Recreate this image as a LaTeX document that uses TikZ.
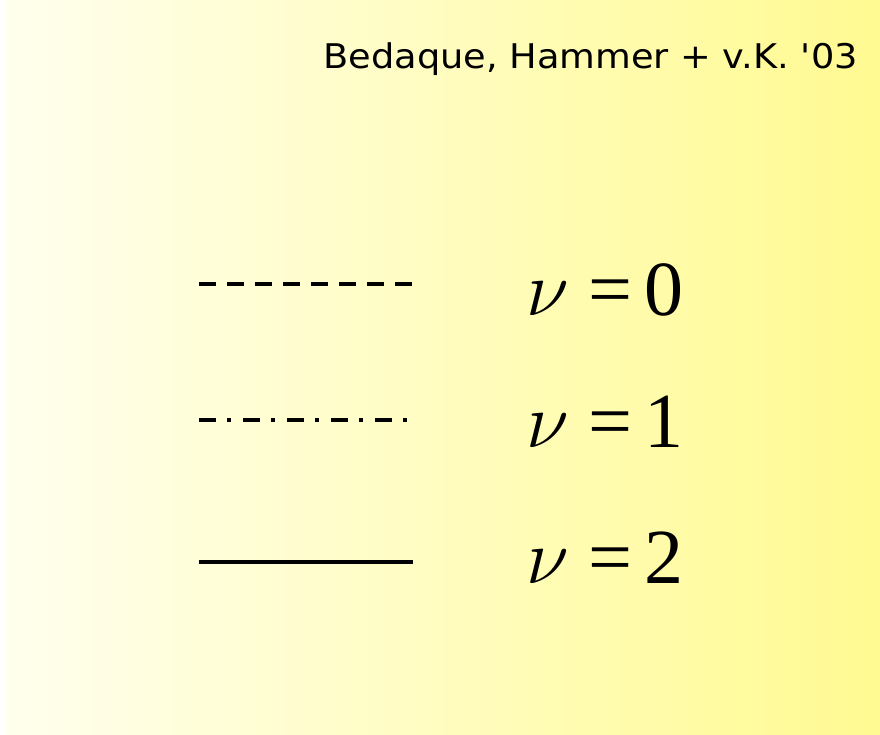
\RequirePackage{fix-cm}
\documentclass[tikz,border=0pt]{standalone}
\usepackage{fontspec}
\setmainfont{Liberation Serif}
\newfontfamily\refsfont[FakeStretch=1.08]{DejaVu Sans}
\usepackage{xcolor}
\usepackage{tikz}
\usetikzlibrary{positioning}

\definecolor{bgleft}{RGB}{255,255,238}
\definecolor{bgmid}{RGB}{255,255,196}
\definecolor{bgright}{RGB}{255,250,145}

\begin{document}
\begin{tikzpicture}[
    x=1pt, y=-1pt,
    sample/.style={line width=3.6pt, black},
    dashsample/.style={sample, dash pattern=on 17pt off 11pt},
    dotsample/.style={sample, dash pattern=on 17pt off 11pt on 4pt off 12pt},
    lbl/.style={anchor=base west, inner sep=0pt, font=\fontsize{78}{80}\selectfont}
]

\useasboundingbox (0,0) rectangle (880,735);

% Background
\fill[white] (0,0) rectangle (880,735);
\shade[left color=bgleft, middle color=bgmid, right color=bgright] (6,0) rectangle (880,735);

% Reference
\node[anchor=base east, inner sep=0pt, font=\refsfont\fontsize{34}{36}\selectfont] (ref) at (858,69) {Bedaque, Hammer + v.K. '03};

% Line samples
\coordinate (d0) at (199,284);
\coordinate (d1) at (413,284);
\coordinate (p0) at (199,420);
\coordinate (p1) at (413,420);
\coordinate (s0) at (199,562);
\coordinate (s1) at (413,562);

\draw[dashsample] (d0) -- (d1);
\draw[dotsample] (p0) -- (p1);
\draw[sample] (s0) -- (s1);

% Labels
\node[lbl] (nu0) at (526,315) {$\nu$\hspace{20pt}=\hspace{12pt}0};
\node[lbl] (nu1) at (526,447) {$\nu$\hspace{20pt}=\hspace{12pt}1};
\node[lbl] (nu2) at (526,583) {$\nu$\hspace{20pt}=\hspace{12pt}2};

\end{tikzpicture}
\end{document}
